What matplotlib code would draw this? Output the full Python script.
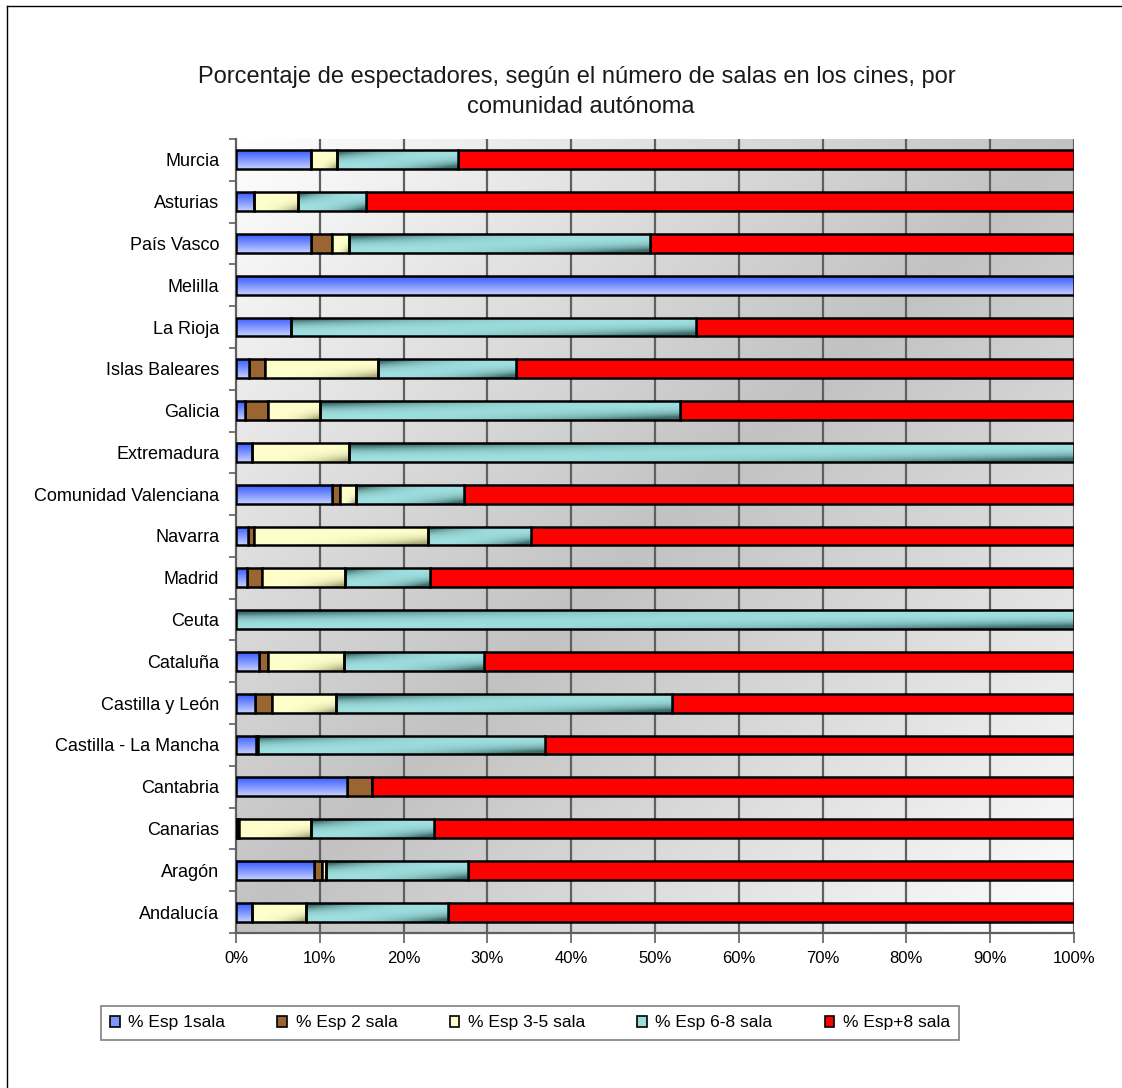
import numpy as np
import matplotlib.pyplot as plt
from matplotlib.colors import to_rgb
from matplotlib.lines import Line2D

plt.rcParams['font.family'] = ['Liberation Sans', 'DejaVu Sans']

# regions, bottom to top as drawn
regions = ["Andalucía", "Aragón", "Canarias", "Cantabria", "Castilla - La Mancha",
           "Castilla y León", "Cataluña", "Ceuta", "Madrid", "Navarra",
           "Comunidad Valenciana", "Extremadura", "Galicia", "Islas Baleares",
           "La Rioja", "Melilla", "País Vasco", "Asturias", "Murcia"]

esp_1 = [1.9, 9.3, 0.1, 13.3, 2.35, 2.3, 2.8, 0, 1.35, 1.4,
         11.5, 1.9, 1.1, 1.55, 6.6, 100, 9.0, 2.1, 9.0]
esp_2 = [0, 1.0, 0.2, 2.9, 0.3, 2.0, 1.0, 0, 1.75, 0.75,
         0.9, 0, 2.7, 1.95, 0, 0, 2.4, 0, 0]
esp_3_5 = [6.4, 0.4, 8.7, 0, 0, 7.6, 9.05, 0, 9.9, 20.75,
           1.9, 11.6, 6.2, 13.4, 0, 0, 2.1, 5.3, 3.1]
esp_6_8 = [17.0, 17.0, 14.6, 0, 34.25, 40.1, 16.75, 100, 10.1, 12.3,
           12.9, 86.5, 43.0, 16.5, 48.3, 0, 35.9, 8.1, 14.4]
esp_8 = [74.7, 72.3, 76.4, 83.8, 63.1, 48.0, 70.4, 0, 76.9, 64.8,
         72.8, 0, 47.0, 66.6, 45.1, 0, 50.6, 84.5, 73.5]

series_names = ["% Esp 1sala", "% Esp 2 sala", "% Esp 3-5 sala", "% Esp 6-8 sala", "% Esp+8 sala"]
colors = ["#7b96ff", "#996633", "#ffffcc", "#99dddd", "#ff0000"]

fig = plt.figure(figsize=(11.22, 10.88), dpi=100)
ax = fig.add_axes([236 / 1122, 1 - 933 / 1088, 838 / 1122, 794 / 1088])

n = len(regions)

# plot area background: white at top-left and bottom-right, grey band across the middle
gx, gy = np.meshgrid(np.linspace(0, 1, 300), np.linspace(0, 1, 300))
s = (gx + gy) / 2
shade = 1 - 0.24 * (1 - np.abs(s - 0.5) * 2)
bg = np.dstack([shade, shade, shade])
ax.imshow(bg, extent=(0, 100, -0.5, n - 0.5), origin='upper', aspect='auto', zorder=0)

for gxv in range(10, 101, 10):
    ax.axvline(gxv, color="#606060", lw=1.6, zorder=1)


def mix(c1, c2, t):
    a = np.array(to_rgb(c1))
    b = np.array(to_rgb(c2))
    return a[None, None, :] * (1 - t[..., None]) + b[None, None, :] * t[..., None]


u, v = np.meshgrid(np.linspace(0, 1, 120), np.linspace(0, 1, 20))  # v: 0 bottom, 1 top


def grad_img(kind):
    if kind == 0:
        return mix("#c4ceff", "#3a5cff", v)
    if kind == 2:
        t = np.clip(((1 - v) * u) ** 3 * 1.5, 0, 1)
        return mix("#ffffcc", "#a8a878", t)
    if kind == 3:
        t = np.clip((v * (1 - u)) ** 3 * 1.6 + ((1 - v) * u) ** 3 * 1.6, 0, 1)
        return mix("#a0e0e0", "#3e6c6c", t)
    return None


data = [esp_1, esp_2, esp_3_5, esp_6_8, esp_8]
left = np.zeros(n)
y = np.arange(n)
for k, vals in enumerate(data):
    vals = np.array(vals, dtype=float)
    bars = ax.barh(y, vals, left=left, height=0.45, color=colors[k],
                   edgecolor="black", linewidth=1.8, zorder=3, label=series_names[k])
    img = grad_img(k)
    if img is not None:
        for p in bars.patches:
            if p.get_width() <= 0:
                continue
            x0, y0 = p.get_x(), p.get_y()
            im = ax.imshow(img, extent=(x0, x0 + p.get_width(), y0, y0 + p.get_height()),
                           origin='lower', aspect='auto', zorder=3.2, interpolation='bilinear')
            im.set_clip_path(p)
            p.set_facecolor('none')
            p.set_zorder(3.5)
    left += vals

ax.set_xlim(0, 100)
ax.set_ylim(-0.5, n - 0.5)

ax.set_xticks(np.arange(0, 101, 10))
ax.set_xticklabels([f"{t}%" for t in range(0, 101, 10)], fontsize=12)
ax.set_yticks(y)
ax.set_yticklabels(regions, fontsize=13)
ax.set_yticks(np.arange(-0.5, n, 1), minor=True)
ax.tick_params(axis='y', which='major', length=0, pad=12)
ax.tick_params(axis='y', which='minor', length=5, color="#606060", width=1.2)
ax.tick_params(axis='x', length=7, color="#606060", width=1.2, pad=6)

for side in ['top', 'right']:
    ax.spines[side].set_visible(False)
for side in ['left', 'bottom']:
    ax.spines[side].set_color("#606060")
    ax.spines[side].set_linewidth(1.6)

fig.text(0.514, 1 - 77 / 1088, "Porcentaje de espectadores, según el número de salas en los cines, por",
         ha='center', va='center', fontsize=17, color="#1a1a1a")
fig.text(0.518, 1 - 107 / 1088, "comunidad autónoma",
         ha='center', va='center', fontsize=17, color="#1a1a1a")

handles = [plt.Rectangle((0, 0), 1, 1, facecolor=c, edgecolor='black', linewidth=1.2) for c in colors]
leg = fig.legend(handles, series_names, loc='center', bbox_to_anchor=(530 / 1122, 1 - 1023 / 1088),
                 ncol=5, fontsize=12.5, frameon=True, fancybox=False, handlelength=0.55,
                 handleheight=0.55, handletextpad=0.5, columnspacing=3.0, borderpad=0.55)
leg.get_frame().set_edgecolor("#606060")
leg.get_frame().set_linewidth(1.2)

# outer chart border (left and top edges)
fig.add_artist(Line2D([7 / 1122, 7 / 1122], [0, 1 - 6 / 1088], transform=fig.transFigure, color="black", lw=1))
fig.add_artist(Line2D([7 / 1122, 1], [1 - 6 / 1088, 1 - 6 / 1088], transform=fig.transFigure, color="black", lw=1))

fig.savefig("out.png", dpi=100)
